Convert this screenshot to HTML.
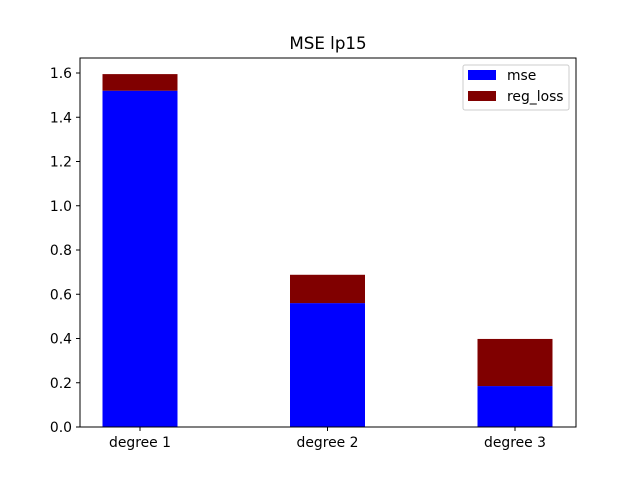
<!DOCTYPE html>
<html><head><meta charset="utf-8"><style>
body{margin:0;background:#fff;}
svg text{font-family:"DejaVu Sans","Liberation Sans",sans-serif;}
</style></head><body>
<svg id="chart" width="640" height="480" xmlns="http://www.w3.org/2000/svg">
<rect width="640" height="480" fill="#fff"/>
<text x="328" y="49" font-size="16.7" text-anchor="middle">MSE lp15</text>
<g id="bars"></g>
<g id="axes"></g>
<rect x="80" y="58" width="496" height="369" fill="none" stroke="#000" stroke-width="1"/>
<g>
<rect x="463" y="65" width="106" height="45" rx="2" fill="#fff" fill-opacity="0.8" stroke="#ccc"/>
<g>
<rect x="468" y="70" width="28" height="10" fill="#0000ff"/>
<text x="507" y="80" font-size="13.9">mse</text></g>
<g>
<rect x="468" y="91" width="28" height="10" fill="#800000"/>
<text x="507" y="101" font-size="13.9">reg_loss</text></g>
</g>
</svg>
<script>
const categories=["degree 1","degree 2","degree 3"];
const mseValues=[1.52,0.56,0.185];
const regLossValues=[0.075,0.128,0.213];
const yTicks=[0,0.2,0.4,0.6,0.8,1.0,1.2,1.4,1.6];
const NS="http://www.w3.org/2000/svg";
const xs=i=>140+(i)*187.5;
const ys=v=>427-v*221.25;
const bw=75;
const bars=document.getElementById('bars');
const axes=document.getElementById('axes');
function mk(tag,attrs,parent){const e=document.createElementNS(NS,tag);for(const k in attrs)e.setAttribute(k,attrs[k]);parent.appendChild(e);return e;}
categories.forEach((c,i)=>{
  const x=xs(i)-bw/2;
  const m=mk('rect',{x:x,y:ys(mseValues[i]),width:bw,height:ys(0)-ys(mseValues[i]),fill:'#0000ff'},bars);
  
  
  const top=mseValues[i]+regLossValues[i];
  const r=mk('rect',{x:x,y:ys(top),width:bw,height:ys(mseValues[i])-ys(top),fill:'#800000'},bars);
  
  
  mk('line',{x1:xs(i),x2:xs(i),y1:427,y2:431,stroke:'#000'},axes);
  const t=mk('text',{x:xs(i),y:447,'font-size':13.9,'text-anchor':'middle'},axes);
  t.textContent=c;
  
  
});
yTicks.forEach(v=>{
  mk('line',{x1:76,x2:80,y1:ys(v),y2:ys(v),stroke:'#000'},axes);
  const t=mk('text',{x:72,y:ys(v)+5,'font-size':13.9,'text-anchor':'end'},axes);
  t.textContent=v.toFixed(1);
  
  
});
</script>
</body></html>
